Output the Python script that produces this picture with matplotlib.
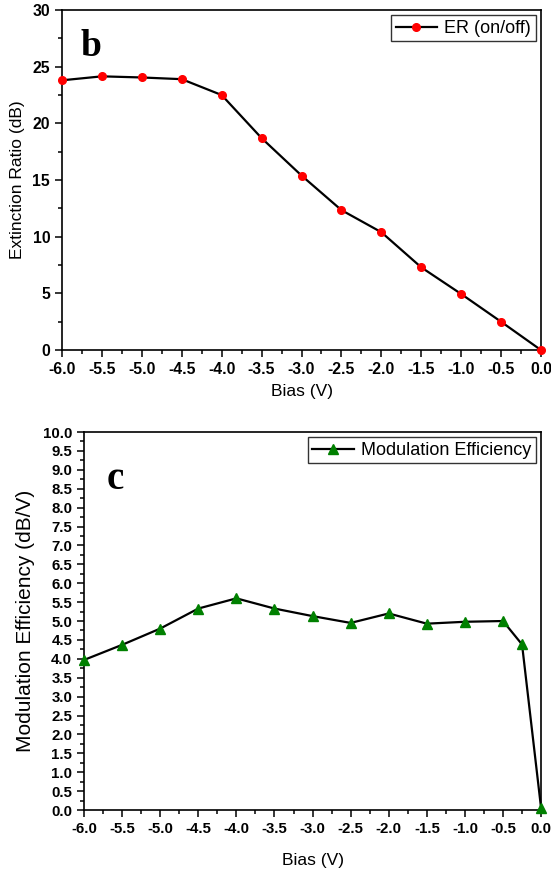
import matplotlib
matplotlib.use("Agg")
import matplotlib.pyplot as plt
from matplotlib.ticker import MultipleLocator, FormatStrFormatter

bias_b = [-6.0, -5.5, -5.0, -4.5, -4.0, -3.5, -3.0, -2.5, -2.0, -1.5, -1.0, -0.5, 0.0]
er_b = [23.8, 24.15, 24.05, 23.9, 22.5, 18.7, 15.4, 12.35, 10.4, 7.3, 4.95, 2.5, 0.0]

bias_c = [-6.0, -5.5, -5.0, -4.5, -4.0, -3.5, -3.0, -2.5, -2.0, -1.5, -1.0, -0.5, -0.25, 0.0]
me_c = [3.97, 4.37, 4.8, 5.33, 5.6, 5.33, 5.13, 4.95, 5.2, 4.93, 4.98, 5.0, 4.38, 0.05]

plt.rcParams['font.family'] = ['Liberation Sans', 'DejaVu Sans']

fig = plt.figure(figsize=(5.51, 8.71), dpi=100)
ax1 = fig.add_axes([0.1125, 0.598, 0.8695, 0.3905])
ax2 = fig.add_axes([0.1525, 0.070, 0.8295, 0.434])


def style(ax, size):
    for s in ax.spines.values():
        s.set_linewidth(1.2)
    ax.tick_params(which='both', direction='out', top=False, right=False, width=1.1)
    ax.tick_params(which='major', length=5, labelsize=size)
    ax.tick_params(which='minor', length=3)
    for lab in ax.get_xticklabels() + ax.get_yticklabels():
        lab.set_fontweight('bold')


def legend(ax):
    leg = ax.legend(loc='upper right', fontsize=13, frameon=True, fancybox=False,
                    edgecolor='black', borderpad=0.25, handlelength=2.3,
                    handletextpad=0.4, borderaxespad=0.3)
    leg.get_frame().set_linewidth(1.0)


# panel b
ax1.plot(bias_b, er_b, color='black', lw=1.6, marker='o', ms=5.5,
         mfc='red', mec='red', label='ER (on/off)', clip_on=False, zorder=3)
ax1.set_xlim(-6, 0)
ax1.set_ylim(0, 30)
ax1.xaxis.set_major_locator(MultipleLocator(0.5))
ax1.xaxis.set_minor_locator(MultipleLocator(0.25))
ax1.yaxis.set_major_locator(MultipleLocator(5))
ax1.yaxis.set_minor_locator(MultipleLocator(2.5))
ax1.xaxis.set_major_formatter(FormatStrFormatter('%.1f'))
ax1.set_xlabel('Bias (V)', fontsize=12.5, labelpad=5)
ax1.set_ylabel('Extinction Ratio (dB)', fontsize=12.5, labelpad=5)
style(ax1, 11.3)
legend(ax1)
ax1.text(0.038, 0.865, 'b', transform=ax1.transAxes, fontsize=27,
         fontweight='bold', family='Liberation Serif', va='baseline')

# panel c
ax2.plot(bias_c, me_c, color='black', lw=1.6, marker='^', ms=7,
         mfc='green', mec='green', label='Modulation Efficiency',
         clip_on=False, zorder=3)
ax2.set_xlim(-6, 0)
ax2.set_ylim(0, 10)
ax2.xaxis.set_major_locator(MultipleLocator(0.5))
ax2.xaxis.set_minor_locator(MultipleLocator(0.25))
ax2.yaxis.set_major_locator(MultipleLocator(0.5))
ax2.yaxis.set_minor_locator(MultipleLocator(0.25))
ax2.xaxis.set_major_formatter(FormatStrFormatter('%.1f'))
ax2.yaxis.set_major_formatter(FormatStrFormatter('%.1f'))
ax2.set_xlabel('Bias (V)', fontsize=12.5, labelpad=12)
ax2.set_ylabel('Modulation Efficiency (dB/V)', fontsize=15, labelpad=6)
style(ax2, 10.8)
legend(ax2)
ax2.text(0.05, 0.849, 'c', transform=ax2.transAxes, fontsize=28,
         fontweight='bold', family='Liberation Serif', va='baseline')

fig.savefig('out.png', dpi=100)
